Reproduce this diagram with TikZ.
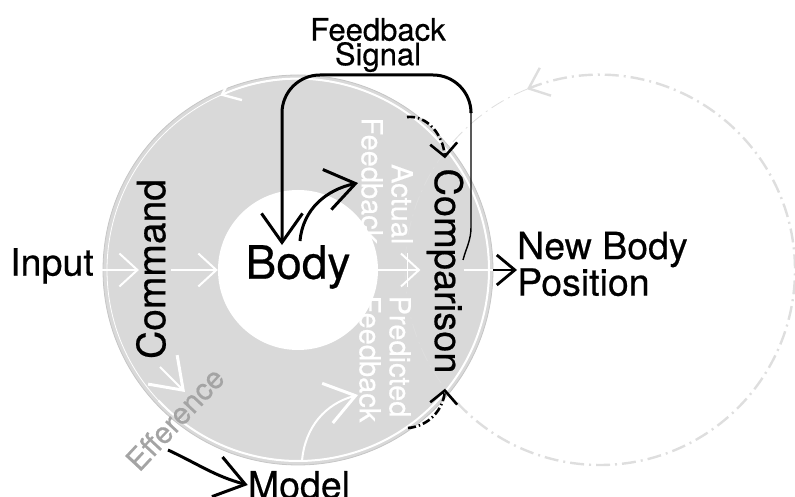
\documentclass[tikz,border=0pt]{standalone}
\usepackage{fontspec}
\setmainfont{TeX Gyre Heros}[FakeBold=0.5]
\usepackage{tikz}
\usetikzlibrary{shapes,arrows.meta,positioning}

\definecolor{ringgray}{HTML}{D9D9D9}
\definecolor{rimgray}{HTML}{C6C6C6}
\definecolor{loopgray}{HTML}{DEDEDE}
\definecolor{effgray}{HTML}{A4A4A4}

\tikzset{
  big barb/.style={-{Straight Barb[length=29pt,width=41pt,line width=3pt 0]}},
  small barb/.style={-{Straight Barb[length=18pt,width=33pt,line width=2pt 0]}},
  tag/.style={inner sep=0pt, font=\fontsize{37.5}{30}\selectfont},
  ghost/.style={inner sep=0pt, text=white, font=\fontsize{29}{30}\selectfont},
  signal line/.style={draw=black, line width=3pt},
  white line/.style={draw=white, line width=2pt},
  guess line/.style={draw=black, line width=2.6pt, dash pattern=on 8pt off 3pt on 1.5pt off 3pt,
    -{Straight Barb[length=13pt,width=27pt,line width=2.6pt 0]}},
  loop line/.style={draw=loopgray, dash pattern=on 14pt off 5pt on 2pt off 5pt},
}

\begin{document}
\begin{tikzpicture}[x=1pt,y=1pt]
  \useasboundingbox (0,0) rectangle (795,497);
  % centres
  \coordinate (mid) at (298,227);
  \coordinate (next) at (600,227);

  % loops
  \fill[ringgray] (mid) circle (195);
  \draw[rimgray, line width=0.8pt] (mid) circle (195);
  \draw[white, line width=0.8pt] (mid) circle (191);
  \draw[white, line width=2pt, -{Straight Barb[length=16pt,width=26pt,line width=2.4pt 0]}]
    ([shift={(-137:191)}]mid) arc[start angle=-137, end angle=114, radius=191];
  \node[circle, fill=white, minimum size=160pt, inner sep=0pt] (core) at (mid) {};
  \draw[loop line, line width=0.8pt]
    ([shift={(112:195)}]next) arc[start angle=112, end angle=223, radius=195];
  \draw[loop line, line width=2.4pt, -{Straight Barb[length=18pt,width=30pt,line width=2.4pt 0]}]
    ([shift={(-137:195)}]next) arc[start angle=-137, end angle=112, radius=195];

  % labels
  \node[tag] (input) at (52,231) {Input};
  \node[tag, font=\fontsize{39}{30}\selectfont, rotate=90] (command) at (151,228) {Command};
  \node[inner sep=0pt, font=\fontsize{46}{46}\selectfont] (body) at (298,230) {Body};
  \node[tag, font=\fontsize{38}{30}\selectfont, rotate=-90] (comparison) at (445,226) {Comparison};
  \node[tag, anchor=west, align=left] (newpos) at (517,233) {New Body\\Position};
  \node[tag] (model) at (299,12) {Model};
  \node[inner sep=0pt, align=center, font=\fontsize{31}{23}\selectfont] (signal) at (378,452) {Feedback\\Signal};
  \node[ghost, rotate=-90, align=right] (actual) at (387,316) {Actual\\Feedback};
  \node[ghost, rotate=-90, align=left] (predicted) at (385,138) {Predicted\\Feedback};
  \node[inner sep=0pt, text=effgray, font=\fontsize{30}{30}\selectfont, rotate=47] (efference) at (175,78) {Efference};

  % free ends
  \coordinate (rim) at (493,227);
  \coordinate (fbfoot) at (463,237);
  \coordinate (fbright) at (471,270);
  \coordinate (fbknee) at (471,385);
  \coordinate (fbtop) at (471,422);
  \coordinate (fbleft) at (282,422);
  \coordinate (senseTip) at (358,314);
  \coordinate (guessTip) at (358,102);
  \coordinate (effFoot) at (160,130);
  \coordinate (effTip) at (185,105);
  \coordinate (modelFoot) at (168,47);
  \coordinate (upperFoot) at (407,380);
  \coordinate (lowerFoot) at (408,69);

  % main line
  \draw[white line, small barb] ([xshift=8pt]input.east |- mid) -- ([xshift=3pt]command.north |- mid);
  \draw[white line, small barb] ([xshift=5pt]command.south |- mid) -- (core.west);
  \draw[white line, small barb] (core.east) -- ([xshift=-6pt]comparison.south |- mid);
  \draw[white, line width=1pt] (407,244) -- (407,210);
  \draw[white line] (comparison.north |- mid) -- (rim);
  \draw[black, line width=2.8pt, -{Straight Barb[length=18pt,width=30pt,line width=2.8pt 0]}] (rim) -- (newpos.west |- mid);

  % feedback signal
  \draw[black, line width=1.4pt] (fbfoot) to[out=75,in=-90] (fbright) -- (fbknee);
  \draw[signal line, big barb, rounded corners=38pt] (fbknee) -- (fbtop) -- (fbleft) -- (fbleft |- body.north);

  % curved arrows
  \draw[signal line, big barb] ([xshift=2pt,yshift=4pt]body.north) to[out=85,in=192] (senseTip);
  \draw[white line, big barb] ([xshift=3pt,yshift=10pt]model.north) to[out=85,in=195] (guessTip);
  \draw[white line, big barb] (effFoot) -- (effTip);
  \draw[signal line, big barb] (modelFoot) to[out=-25,in=165] (model.west);
  \draw[guess line] (upperFoot) to[out=5,in=95] ([yshift=10pt]comparison.west);
  \draw[guess line] (lowerFoot) to[out=5,in=-95] ([yshift=-15pt]comparison.east);
\end{tikzpicture}
\end{document}
